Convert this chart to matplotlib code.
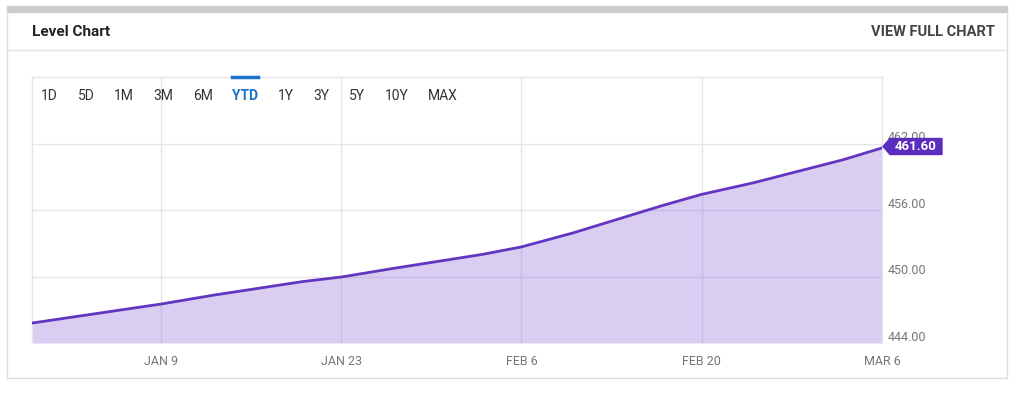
import matplotlib
matplotlib.use("Agg")
import matplotlib.pyplot as plt
import matplotlib.dates as mdates
from matplotlib.patches import Rectangle, Polygon
import datetime as dt

plt.rcParams['font.family'] = ['Roboto', 'DejaVu Sans']

# ---- data ----
dates = ["2022-12-30", "2023-01-06", "2023-01-09", "2023-01-13", "2023-01-20",
         "2023-01-23", "2023-01-27", "2023-02-03", "2023-02-06", "2023-02-10",
         "2023-02-17", "2023-02-20", "2023-02-24", "2023-03-03", "2023-03-06"]
values = [445.80, 447.00, 447.51, 448.30, 449.54,
          449.95, 450.72, 452.00, 452.67, 453.93,
          456.42, 457.41, 458.45, 460.54, 461.60]
x_tick_dates = ["2023-01-09", "2023-01-23", "2023-02-06", "2023-02-20", "2023-03-06"]
x_tick_labels = ["JAN 9", "JAN 23", "FEB 6", "FEB 20", "MAR 6"]
y_ticks = [444, 450, 456, 462]
range_buttons = ["1D", "5D", "1M", "3M", "6M", "YTD", "1Y", "3Y", "5Y", "10Y", "MAX"]
last_label = "461.60"

W, H = 1024, 394
fig = plt.figure(figsize=(W / 100, H / 100), dpi=100)

def fx(px):
    return px / W

def fy(py):
    return 1 - py / H

# ---- card decorations ----
fig.patches.append(Rectangle((fx(7), fy(12)), fx(1000), 6 / H, transform=fig.transFigure,
                             color="#cccccc", zorder=0))
fig.add_artist(plt.Line2D([fx(7), fx(7)], [fy(12), fy(378)], color="#dddddd", lw=1))
fig.add_artist(plt.Line2D([fx(1007), fx(1007)], [fy(12), fy(378)], color="#dddddd", lw=1))
fig.add_artist(plt.Line2D([fx(7), fx(1007)], [fy(378), fy(378)], color="#dddddd", lw=1))
fig.add_artist(plt.Line2D([fx(7), fx(1007)], [fy(50), fy(50)], color="#e2e2e2", lw=1))

fig.text(fx(32), fy(32), "Level Chart", fontsize=11, fontweight="bold",
         color="#222222", va="center", ha="left")
fig.text(fx(995), fy(32), "VIEW FULL CHART", fontsize=10.5, fontweight="bold",
         color="#444444", va="center", ha="right")

# ---- axes ----
ax = fig.add_axes([fx(32), fy(343), fx(882 - 32), (343 - 77) / H])
d = [dt.datetime.strptime(s, "%Y-%m-%d") for s in dates]
xt = [dt.datetime.strptime(s, "%Y-%m-%d") for s in x_tick_dates]

# light grid (background)
for t in xt[:-1]:
    ax.axvline(t, color="#e6e6e6", lw=1, zorder=0)
for yv in y_ticks[1:]:
    ax.axhline(yv, color="#e6e6e6", lw=1, zorder=0)

fill = ax.fill_between(d, values, 444, color="#d9cdf1", lw=0, zorder=1)

# darker grid inside fill, clipped to the fill area
fill_path = fill.get_paths()[0]
for t in xt[:-1]:
    ln = ax.axvline(t, color="#c8bbe6", lw=1, zorder=2)
    ln.set_clip_path(fill_path, ax.transData)
for yv in y_ticks[1:]:
    ln = ax.axhline(yv, color="#c8bbe6", lw=1, zorder=2)
    ln.set_clip_path(fill_path, ax.transData)

ax.plot(d, values, color="#6236c0", lw=2, zorder=3, solid_capstyle="round")

ax.set_xlim(d[0], xt[-1])
ax.set_ylim(444, 468)

ax.set_xticks([])
ax.set_yticks([])
for s in ["left", "right", "top"]:
    ax.spines[s].set_color("#e6e6e6")
    ax.spines[s].set_linewidth(1)
ax.spines["bottom"].set_visible(False)

# x labels
for t, lab in zip(xt, x_tick_labels):
    ax.annotate(lab, xy=(mdates.date2num(t), 0), xycoords=("data", "axes fraction"),
                xytext=(0, -13), textcoords="offset points", ha="center", va="center",
                fontsize=9, color="#777777")

# y labels on right
for yv in y_ticks:
    ax.annotate(f"{yv:.2f}", xy=(1, yv), xycoords=("axes fraction", "data"),
                xytext=(4, -0.5), textcoords="offset points", ha="left", va="bottom",
                fontsize=9, color="#777777")

# last value tag
tag_x0, tag_x1 = fx(883), fx(942)
tag_yc = fy(146.5)
hh = 8 / H
tip = 7 / W
poly = Polygon([(tag_x0, tag_yc), (tag_x0 + tip, tag_yc + hh), (tag_x1, tag_yc + hh),
                (tag_x1, tag_yc - hh), (tag_x0 + tip, tag_yc - hh)],
               closed=True, transform=fig.transFigure, color="#5b2dbf", zorder=5)
fig.patches.append(poly)
fig.text((tag_x0 + tip + tag_x1) / 2, tag_yc, last_label, fontsize=9.5, fontweight="bold",
         color="white", ha="center", va="center", zorder=6)

# range buttons
btn_x = [49, 86, 124, 163, 203, 245, 286, 321, 357, 397, 443]
for bx, lab in zip(btn_x, range_buttons):
    active = lab == "YTD"
    fig.text(fx(bx), fy(96), lab, fontsize=10, color="#1a73c8" if active else "#333333",
             fontweight="bold" if active else "normal", ha="center", va="center")
fig.add_artist(plt.Line2D([fx(232), fx(258)], [fy(77), fy(77)], color="#1a73c8", lw=2.5))

fig.savefig("out.png", dpi=100)
